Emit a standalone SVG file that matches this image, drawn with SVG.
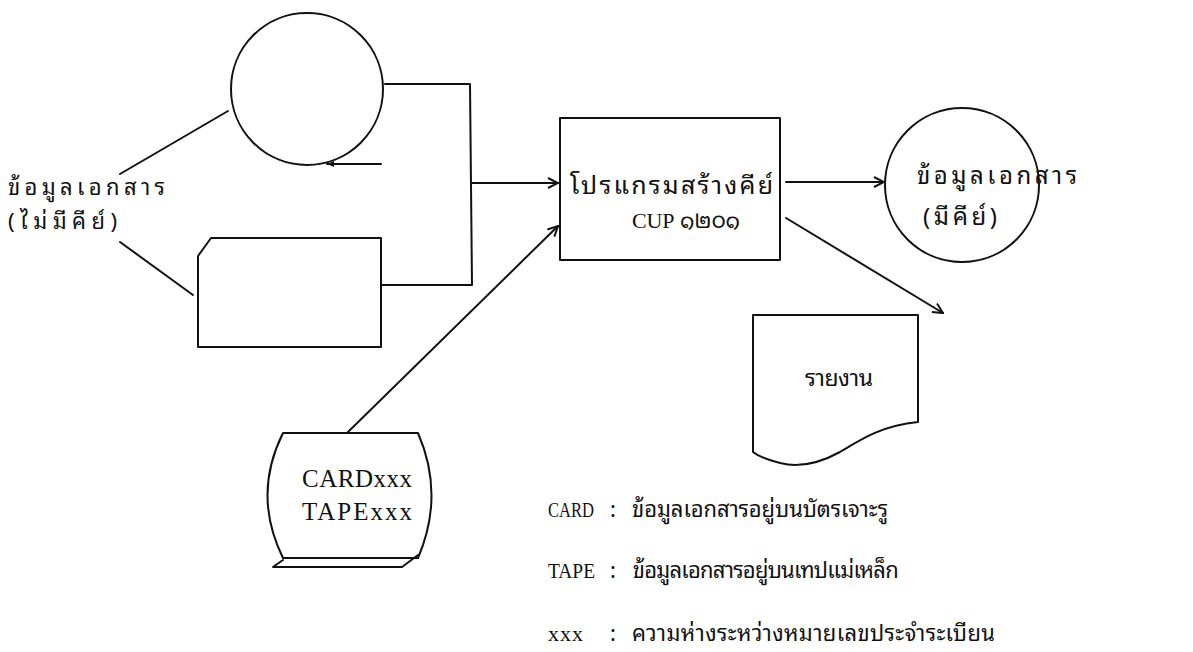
<svg xmlns="http://www.w3.org/2000/svg" width="1193" height="652" viewBox="0 0 1193 652">
<style>
.s{fill:none;stroke:#111;stroke-width:2;stroke-linecap:round;stroke-linejoin:round}
.th{font-family:"Noto Sans Thai Looped","Loma","Garuda","Norasi","Noto Sans Thai","Noto Sans","DejaVu Sans",sans-serif;fill:#111}
.tw{font-family:"Liberation Serif","Times New Roman",serif;fill:#111}
</style>
<defs>
<marker id="arr" viewBox="0 0 12 12" refX="11" refY="6" markerWidth="12" markerHeight="12" markerUnits="userSpaceOnUse" orient="auto">
<path d="M1,1 L11,6 L1,11" fill="none" stroke="#111" stroke-width="2"/>
</marker>
<marker id="arrs" viewBox="0 0 10 10" refX="9" refY="5" markerWidth="8" markerHeight="8" markerUnits="userSpaceOnUse" orient="auto">
<path d="M0,1 L9,5 L0,9 Z" fill="#111"/>
</marker>
</defs>
<rect width="1193" height="652" fill="#fff"/>

<g id="input-label">
<text class="th" font-size="22"><tspan x="8" y="195" textLength="157" lengthAdjust="spacing">ข้อมูลเอกสาร</tspan><tspan x="8" y="229" textLength="109" lengthAdjust="spacing">(ไม่มีคีย์)</tspan></text>
</g>

<g id="tape-in">
<circle class="s" cx="307" cy="89" r="76"/>
<line class="s" x1="381" y1="164" x2="327" y2="164" marker-end="url(#arrs)"/>
</g>

<g id="card-in">
<path class="s" d="M211,238 L381,238 L381,347 L198,347 L198,256 Z"/>
</g>

<g id="program">
<rect class="s" x="560" y="118" width="220" height="142"/>
<text class="th" x="570" y="194" font-size="25" textLength="203" lengthAdjust="spacing">โปรแกรมสร้างคีย์</text>
<text class="th" x="632" y="228" font-size="22" textLength="108" lengthAdjust="spacing"><tspan class="tw">CUP</tspan> ๑๒๐๑</text>
</g>

<g id="tape-out">
<circle class="s" cx="962" cy="185" r="77"/>
<text class="th" x="917" y="184" font-size="24" textLength="160" lengthAdjust="spacing">ข้อมูลเอกสาร</text>
<text class="th" x="923" y="225" font-size="24" textLength="74" lengthAdjust="spacing">(มีคีย์)</text>
</g>

<g id="report">
<path class="s" d="M753,315 L918,315 L918,422 C880,426 860,440 840,452 C820,463 800,468 780,463 C768,460 758,456 753,452 Z"/>
<text class="th" x="805" y="386" font-size="23" textLength="68" lengthAdjust="spacing">รายงาน</text>
</g>

<g id="control">
<path class="s" d="M283,433 L418,433 Q445,495 418,558 L283,558 Q252,495 283,433 Z"/>
<path class="s" d="M283,560 L273,567 L402,567 L418,555"/>
<text class="tw" x="302" y="487" font-size="25" textLength="110" lengthAdjust="spacing">CARDxxx</text>
<text class="tw" x="302" y="520" font-size="25" textLength="110" lengthAdjust="spacing">TAPExxx</text>
</g>

<g id="connectors">
<line class="s" x1="120" y1="174" x2="228" y2="111"/>
<line class="s" x1="120" y1="242" x2="193" y2="295"/>
<polyline class="s" points="385,84 470,84 472,285 381,285"/>
<line class="s" x1="471" y1="183" x2="558" y2="183" marker-end="url(#arr)"/>
<line class="s" x1="786" y1="182" x2="884" y2="182" marker-end="url(#arr)"/>
<line class="s" x1="786" y1="218" x2="943" y2="313" marker-end="url(#arr)"/>
<line class="s" x1="348" y1="432" x2="558" y2="226" marker-end="url(#arr)"/>
</g>

<g id="legend">
<text class="tw" x="548" y="517" font-size="22" textLength="46" lengthAdjust="spacingAndGlyphs">CARD</text>
<text class="th" x="610" y="517" font-size="22">:</text>
<text class="th" x="632" y="517" font-size="22" textLength="256" lengthAdjust="spacing">ข้อมูลเอกสารอยู่บนบัตรเจาะรู</text>
<text class="tw" x="548" y="578" font-size="22" textLength="47" lengthAdjust="spacingAndGlyphs">TAPE</text>
<text class="th" x="610" y="578" font-size="22">:</text>
<text class="th" x="632" y="578" font-size="22" textLength="266" lengthAdjust="spacing">ข้อมูลเอกสารอยู่บนเทปแม่เหล็ก</text>
<text class="tw" x="548" y="641" font-size="22" textLength="35" lengthAdjust="spacing">xxx</text>
<text class="th" x="610" y="641" font-size="22">:</text>
<text class="th" x="632" y="641" font-size="22" textLength="363" lengthAdjust="spacing">ความห่างระหว่างหมายเลขประจำระเบียน</text>
</g>
</svg>
